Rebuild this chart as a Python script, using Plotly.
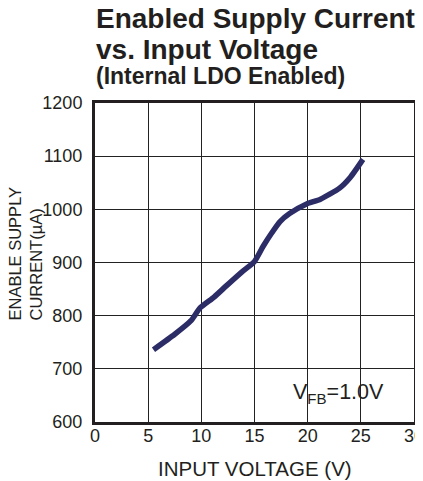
import plotly.graph_objects as go

# Data
vin = [5.5, 7.5, 9.0, 9.9, 11.2, 12.4, 13.8, 15.0, 15.8, 16.6, 17.4, 18.3, 19.9, 21.2, 23.0, 24.0, 25.2]
iq = [736, 765, 790, 815, 835, 857, 882, 902, 930, 955, 977, 992, 1010, 1019, 1040, 1060, 1094]

x_ticks = [0, 5, 10, 15, 20, 25, 30]
y_ticks = [600, 700, 800, 900, 1000, 1100, 1200]

FONT = "Liberation Sans, Arial, Helvetica, sans-serif"
INK = "#231f20"
OFF = 8  # default page body margin
W, H = 423 - OFF, 481 - OFF
ML, MR, MT, MB = 95 - OFF, 9, 103 - OFF, 59
PH = H - MT - MB
PW = W - ML - MR

def py(p):
    """page pixel y -> paper y"""
    return (H - MB - (p - OFF)) / PH

def px(p):
    """page pixel x -> paper x"""
    return ((p - OFF) - ML) / PW

fig = go.Figure()
fig.add_trace(go.Scatter(x=vin, y=iq, mode="lines",
                         line=dict(color="#2c2d66", width=5.5, shape="spline", smoothing=0.6),
                         showlegend=False, hoverinfo="skip"))

fig.update_xaxes(range=[0, 30], tickvals=x_ticks, ticktext=[str(v) for v in x_ticks],
                 showgrid=True, gridcolor="#222222", gridwidth=1,
                 showline=True, linecolor=INK, linewidth=3, mirror=True,
                 ticks="", zeroline=False, ticklabelstandoff=-5, ticklabeloverflow="allow",
                 tickfont=dict(family=FONT, size=18, color=INK))
fig.update_yaxes(range=[600, 1200], tickvals=y_ticks, ticktext=[str(v) for v in y_ticks],
                 showgrid=True, gridcolor="#222222", gridwidth=1,
                 showline=True, linecolor=INK, linewidth=3, mirror=True,
                 ticks="", zeroline=False, ticklabelstandoff=6, ticklabeloverflow="allow",
                 tickfont=dict(family=FONT, size=18, color=INK))

annotations = [
    dict(text="<b>Enabled Supply Current</b>", x=px(94), xref="paper", y=py(19), yref="paper",
         xanchor="left", yanchor="middle", showarrow=False,
         font=dict(family=FONT, size=28, color=INK)),
    dict(text="<b>vs. Input Voltage</b>", x=px(94), xref="paper", y=py(49.5), yref="paper",
         xanchor="left", yanchor="middle", showarrow=False,
         font=dict(family=FONT, size=28, color=INK)),
    dict(text="<b>(Internal LDO Enabled)</b>", x=px(94), xref="paper", y=py(76), yref="paper",
         xanchor="left", yanchor="middle", showarrow=False,
         font=dict(family=FONT, size=23, color=INK)),
    dict(text="ENABLE SUPPLY<br>CURRENT(µA)", x=px(25), xref="paper", y=py(253.5), yref="paper",
         xanchor="center", yanchor="middle", showarrow=False, textangle=-90, align="left",
         font=dict(family=FONT, size=16.5, color=INK)),
    dict(text="INPUT VOLTAGE (V)", x=px(255), xref="paper", y=py(468.5), yref="paper",
         xanchor="center", yanchor="middle", showarrow=False,
         font=dict(family=FONT, size=20.5, color=INK)),
    dict(text="V<sub>FB</sub>=1.0V", x=px(386), xref="paper", y=py(393), yref="paper",
         xanchor="right", yanchor="middle", showarrow=False,
         font=dict(family=FONT, size=21.5, color=INK)),
]

fig.update_layout(width=W, height=H, margin=dict(l=ML, r=MR, t=MT, b=MB, autoexpand=False),
                  paper_bgcolor="white", plot_bgcolor="white",
                  annotations=annotations, showlegend=False)

fig.write_html("out.html")
